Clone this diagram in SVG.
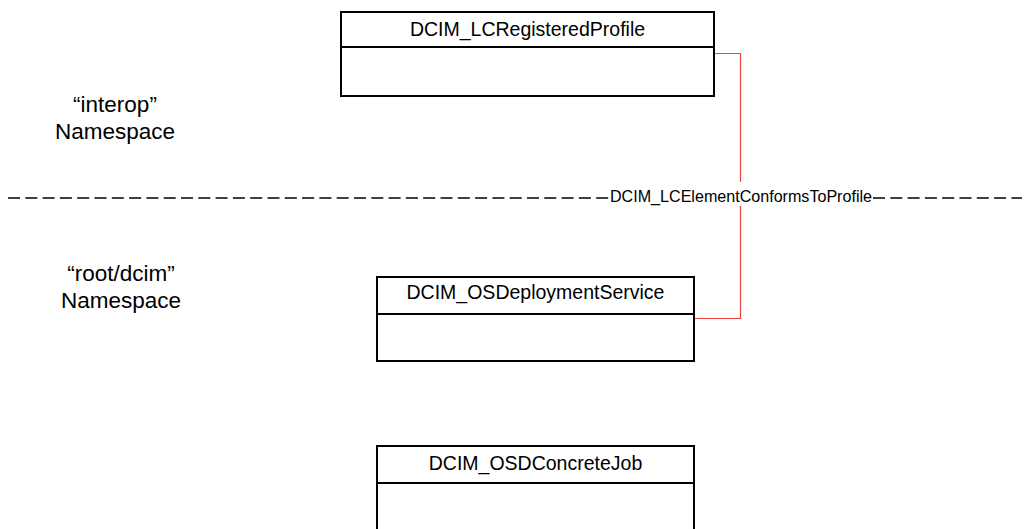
<svg xmlns="http://www.w3.org/2000/svg" width="1026" height="529" viewBox="0 0 1026 529">
<style>
.box{fill:#fff;stroke:#000;stroke-width:2}
.div{stroke:#000;stroke-width:2}
.title{font-family:"Liberation Sans",Arial,sans-serif;font-size:19.5px;fill:#000;text-anchor:middle}
.ns{font-family:"Liberation Sans",Arial,sans-serif;font-size:22.5px;fill:#000;text-anchor:middle}
.lbl{font-family:"Liberation Sans",Arial,sans-serif;font-size:16px;fill:#000}
.conn{fill:none;stroke:#ee4444;stroke-width:1.2}
</style>
<rect width="1026" height="529" fill="#fff"/>
<g id="separator">
<line x1="8" y1="198" x2="1022" y2="198" stroke="#000" stroke-width="1.5" stroke-dasharray="12 5.3"/>
</g>
<g id="ns-interop">
<text class="ns" x="115" y="112">“interop”</text>
<text class="ns" x="115" y="139">Namespace</text>
</g>
<g id="ns-rootdcim">
<text class="ns" x="121" y="281">“root/dcim”</text>
<text class="ns" x="121" y="308">Namespace</text>
</g>
<g id="connectors">
<path class="conn" d="M714,53.5 H740.5 V318.5 H694"/>
<rect x="609" y="182" width="263" height="24" fill="#fff"/>
<text class="lbl" x="610" y="202" textLength="262" lengthAdjust="spacingAndGlyphs">DCIM_LCElementConformsToProfile</text>
</g>
<g id="DCIM_LCRegisteredProfile">
<rect class="box" x="341" y="12" width="373" height="84"/>
<line class="div" x1="341" y1="47" x2="714" y2="47"/>
<text class="title" x="527.5" y="36">DCIM_LCRegisteredProfile</text>
</g>
<g id="DCIM_OSDeploymentService">
<rect class="box" x="377" y="277" width="317" height="84"/>
<line class="div" x1="377" y1="314" x2="694" y2="314"/>
<text class="title" x="535.5" y="299">DCIM_OSDeploymentService</text>
</g>
<g id="DCIM_OSDConcreteJob">
<rect class="box" x="377" y="446" width="317" height="86"/>
<line class="div" x1="377" y1="483" x2="694" y2="483"/>
<text class="title" x="535.5" y="470">DCIM_OSDConcreteJob</text>
</g>
</svg>
